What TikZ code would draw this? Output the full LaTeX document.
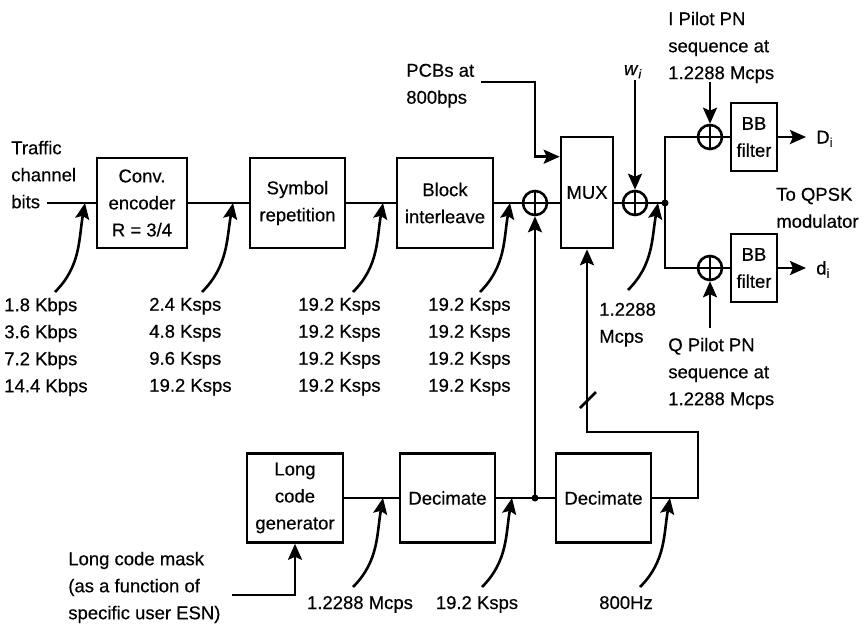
\documentclass[tikz,border=0pt]{standalone}
\usepackage{fontspec}
\setmainfont{Liberation Sans}[FakeBold=0.4]
\usetikzlibrary{arrows.meta,calc}
\begin{document}
\begin{tikzpicture}[x=1pt,y=-1pt,
  line width=2.6pt,
  >={Stealth[length=16pt,width=14pt,inset=3pt]},
  every node/.style={font=\fontsize{18.5}{27}\selectfont},
  boxn/.style={draw,line width=2.6pt,inner sep=0pt,align=center},
  lbl/.style={inner sep=0pt,align=left,anchor=north west},
  xo/.style={circle,draw,minimum size=24pt,inner sep=0pt,
    path picture={\draw[line width=2.8pt] (path picture bounding box.north) -- (path picture bounding box.south)
      (path picture bounding box.west) -- (path picture bounding box.east);}},
  cv/.style={->,out=45,in=-100},
  dotn/.style={circle,fill,inner sep=0pt,minimum size=7pt}
  ]
\useasboundingbox (0,0) rectangle (867,625);

% blocks
\node[boxn,minimum width=90pt,minimum height=90pt] (conv) at (142,203) {Conv.\\encoder\\R = 3/4};
\node[boxn,minimum width=95pt,minimum height=90pt] (sym) at (297.5,203) {Symbol\\repetition};
\node[boxn,minimum width=96pt,minimum height=90pt] (bi) at (445,203) {Block\\interleave};
\node[boxn,minimum width=52pt,minimum height=111pt] (mux) at (587,192.5) {MUX};
\node[xo] (c1) at (535,203) {};
\node[xo] (c2) at (635,203) {};
\node[xo] (c3) at (710,137) {};
\node[xo] (c4) at (710,268) {};
\node[boxn,minimum width=46pt,minimum height=68pt] (bb1) at (754,137) {BB\\filter};
\node[boxn,minimum width=46pt,minimum height=68pt] (bb2) at (754,268) {BB\\filter};
\node[boxn,minimum width=96pt,minimum height=89pt] (lcg) at (295,498) {Long\\code\\generator};
\node[boxn,minimum width=95pt,minimum height=89pt] (dec1) at (447.5,498) {Decimate};
\node[boxn,minimum width=95pt,minimum height=89pt] (dec2) at (603.5,498) {Decimate};

% labels
\node[lbl] (traffic) at (10,139.5) {Traffic\\channel\\bits};
\node[lbl] (col1) at (3,296.5) {1.8 Kbps\\3.6 Kbps\\7.2 Kbps\\14.4 Kbps};
\node[lbl] (col2) at (148,296.5) {2.4 Ksps\\4.8 Ksps\\9.6 Ksps\\19.2 Ksps};
\node[lbl] (col3) at (297,296.5) {19.2 Ksps\\19.2 Ksps\\19.2 Ksps\\19.2 Ksps};
\node[lbl] (col4) at (427,296.5) {19.2 Ksps\\19.2 Ksps\\19.2 Ksps\\19.2 Ksps};
\node[lbl] (pcbl) at (405,62.5) {PCBs at\\800bps};
\node[anchor=base,inner sep=0pt] (wl) at (633,75) {\textit{w}\textsubscript{\textit{i}}};
\node[lbl] (ipl) at (667,10.5) {I Pilot PN\\sequence at\\1.2288 Mcps};
\node[lbl] (qpskl) at (775,186.5) {To QPSK\\modulator};
\node[anchor=base west,inner sep=0pt] (Dl) at (815,143.5) {D\textsubscript{i}};
\node[anchor=base west,inner sep=0pt] (dl) at (815,274.5) {d\textsubscript{i}};
\node[lbl] (mcl) at (598,301.5) {1.2288\\Mcps};
\node[lbl] (qpl) at (667,336.5) {Q Pilot PN\\sequence at\\1.2288 Mcps};
\node[lbl] (lml) at (67,550.5) {Long code mask\\(as a function of\\specific user ESN)};
\node[anchor=base,inner sep=0pt] (b1l) at (360,609) {1.2288 Mcps};
\node[anchor=base,inner sep=0pt] (b2l) at (477,609) {19.2 Ksps};
\node[anchor=base,inner sep=0pt] (b3l) at (626,609) {800Hz};

% coordinates
\coordinate (in0) at (47,203);
\coordinate (j) at (665,203);
\coordinate (Dend) at (806,137);
\coordinate (dend) at (806,268);
\coordinate (ipt) at (710,82);
\coordinate (qpt) at (710,328);
\coordinate (wt) at (635,80);
\coordinate (pcbs) at (481,82);
\coordinate (pcbc) at (535,82);
\coordinate (jd) at (535,498);
\coordinate (r1) at (698,498);
\coordinate (r2) at (698,432);
\coordinate (sl) at (588,400);
\coordinate (lm) at (232,595);

% main chain
\draw (in0) -- (conv);
\draw (conv) -- (sym);
\draw (sym) -- (bi);
\draw (bi) -- (c1);
\draw (c1) -- (c1 -| mux.west);
\draw (c2 -| mux.east) -- (c2);
\draw (c2) -- (j);
\draw (j) |- (c3);
\draw (j) |- (c4);
\node[dotn] (jdot) at (j) {};
\draw (c3) -- (bb1);
\draw (c4) -- (bb2);
\draw[->] (bb1) -- (Dend);
\draw[->] (bb2) -- (dend);
\draw[->] (ipt) -- (c3);
\draw[->] (qpt) -- (c4);
\draw[->] (wt) -- (c2);
\draw[->] (pcbs) -- (pcbc) |- ([yshift=-21pt]mux.north west);

% bottom chain
\draw (lcg) -- (dec1);
\draw (dec1) -- (dec2);
\node[dotn] (jddot) at (jd) {};
\draw[->] (jd) -- (c1);
\draw[->] (dec2) -- (r1) -- (r2) -| (mux.south);
\draw (sl) ++(-8,8) -- ++(16,-16);
\draw[->] (lm) -| (lcg);

% rate arrows
\coordinate (a1s) at (55,292);  \coordinate (a1t) at (85,203);
\coordinate (a2s) at (202,292); \coordinate (a2t) at (233,203);
\coordinate (a3s) at (353,292); \coordinate (a3t) at (383,203);
\coordinate (a4s) at (480,292); \coordinate (a4t) at (510,203);
\coordinate (a5s) at (628,290); \coordinate (a5t) at (658,203);
\coordinate (a6s) at (353,587); \coordinate (a6t) at (383,498);
\coordinate (a7s) at (482,587); \coordinate (a7t) at (512,498);
\coordinate (a8s) at (640,587); \coordinate (a8t) at (670,498);
\draw[cv] (a1s) to (a1t);
\draw[cv] (a2s) to (a2t);
\draw[cv] (a3s) to (a3t);
\draw[cv] (a4s) to (a4t);
\draw[cv] (a5s) to (a5t);
\draw[cv] (a6s) to (a6t);
\draw[cv] (a7s) to (a7t);
\draw[cv] (a8s) to (a8t);
\end{tikzpicture}
\end{document}
